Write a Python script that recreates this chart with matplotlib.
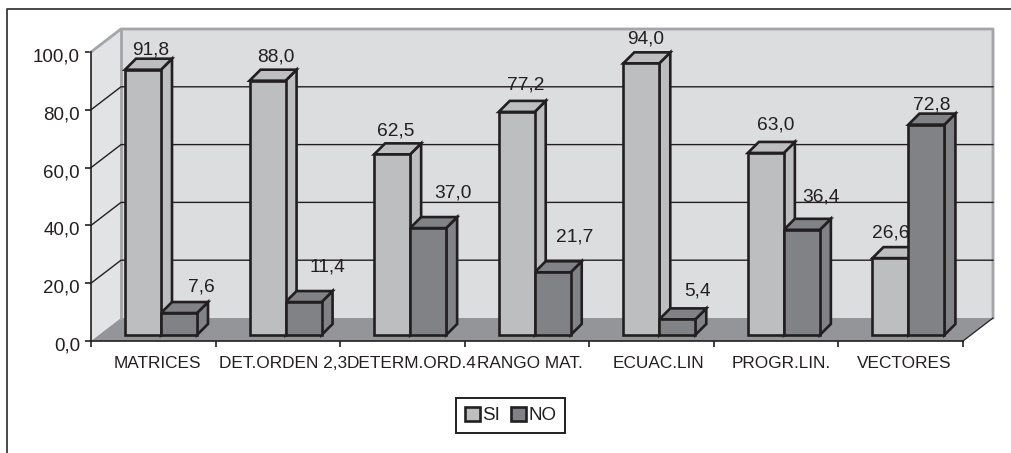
import matplotlib
matplotlib.use("Agg")
import matplotlib.pyplot as plt
from matplotlib.lines import Line2D
from matplotlib.patches import Patch, Polygon
from matplotlib.transforms import ScaledTranslation
import numpy as np

plt.rcParams['font.family'] = ['Liberation Sans', 'DejaVu Sans']

categories = ['MATRICES', 'DET.ORDEN 2,3', 'DETERM.ORD.4', 'RANGO MAT.', 'ECUAC.LIN', 'PROGR.LIN.', 'VECTORES']
si = [91.8, 88.0, 62.5, 77.2, 94.0, 63.0, 26.6]
no = [7.6, 11.4, 37.0, 21.7, 5.4, 36.4, 72.8]
yticks = [0, 20, 40, 60, 80, 100]

# label offsets from the top centre of each bar, in pixels
si_off = [(8, 20), (8, 24), (4, 23), (9, 27), (4, 24), (10, 28), (0, 25)]
no_off = [(22, 26), (24, 35), (25, 35), (22, 35), (20, 28), (19, 33), (5, 20)]
# category labels are not quite centred either, pixels to the right
cat_shift = [4, 5.6, 9.6, 3, 7, 5, 3]

INK = '#231f20'
WALL = '#dcddde'
SIDE = '#e2e3e4'
FLOOR = '#939598'
RIM = '#a3a5a8'
C_SI = '#bcbec0'
C_NO = '#808285'

W, H = 1011, 453
fig = plt.figure(figsize=(W / 100, H / 100), dpi=100)
ax = fig.add_axes([91 / W, 1 - 341 / H, 872 / W, 289 / H])
ax.set_xlim(0, 7)
ax.set_ylim(0, 100)
ax.patch.set_visible(False)

# pixel sizes in data units
px = 7 / 872
py = 100 / 289
dx = 30 * px    # depth of the box
dy = 23 * py

# walls and floor
ax.add_patch(Polygon([(dx, dy), (7 + dx, dy), (7 + dx, 100 + dy), (dx, 100 + dy)], fc=WALL, ec='none', zorder=1, clip_on=False))
ax.add_patch(Polygon([(0, 0), (dx, dy), (dx, 100 + dy), (0, 100)], fc=SIDE, ec='none', zorder=1, clip_on=False))
ax.add_patch(Polygon([(0, 0), (7, 0), (7 + dx, dy), (dx, dy)], fc=FLOOR, ec='none', zorder=1.5, clip_on=False))
ax.plot([0, dx, 7 + dx, 7 + dx], [100, 100 + dy, 100 + dy, dy], color=RIM, lw=2, zorder=2, clip_on=False)
ax.plot([dx, dx], [dy, 100 + dy], color=RIM, lw=2, zorder=2, clip_on=False)
ax.plot([7, 7 + dx], [0, dy], color=INK, lw=0.9, zorder=2, clip_on=False)

# gridlines, back wall and the left wall
for v in yticks[1:-1]:
    ax.plot([0, dx, 7 + dx], [v, v + dy, v + dy], color=INK, lw=1.0, zorder=2, clip_on=False)

# bars
x = np.arange(7)
left = x + 34 * px
bw = 36 * px
base = 6 * py
ox = 11 * px
oy = 11 * py


def Bar3d(xs, vals, col):
    ax.bar(xs, vals, width=bw, bottom=base, align='edge', color=col, edgecolor=INK, linewidth=1.9, zorder=4, clip_on=False)
    for a, v in zip(xs, vals):
        t = v + base
        top = [(a, t), (a + bw, t), (a + bw + ox, t + oy), (a + ox, t + oy)]
        side = [(a + bw, base), (a + bw + ox, base + oy), (a + bw + ox, t + oy), (a + bw, t)]
        ax.add_patch(Polygon(side, fc=col, ec=INK, lw=1.9, joinstyle='miter', zorder=3, clip_on=False))
        ax.add_patch(Polygon(top, fc=col, ec=INK, lw=1.9, joinstyle='miter', zorder=3, clip_on=False))


Bar3d(left, si, C_SI)
Bar3d(left + bw, no, C_NO)

# labels go under the bar fronts, the last 6 of 26,6 is hidden by the NO bar
for xs, vals, offs in [(left, si, si_off), (left + bw, no, no_off)]:
    for a, v, o in zip(xs, vals, offs):
        ax.annotate(f'{v:.1f}'.replace('.', ','), xy=(a + bw / 2, v + base),
                    xytext=(o[0] * 0.72, o[1] * 0.72), textcoords='offset points',
                    ha='center', va='center', fontsize=13.8, color=INK, zorder=3.5)

# axes
for s in ['top', 'right']:
    ax.spines[s].set_visible(False)
for s in ['left', 'bottom']:
    ax.spines[s].set_color(INK)
    ax.spines[s].set_linewidth(1.2)
    ax.spines[s].set_zorder(2.5)

ax.set_yticks(yticks)
ax.set_yticklabels([f'{v:.1f}'.replace('.', ',') for v in yticks], fontsize=13.5, color=INK)
ax.tick_params(axis='y', length=4, width=1.2, color=INK, pad=4)
# tick labels sit a bit below their ticks in the original
for lab in ax.get_yticklabels():
    lab.set_transform(lab.get_transform() + ScaledTranslation(0, -3 / 100, fig.dpi_scale_trans))
ax.set_xticks(np.arange(8))
ax.set_xticklabels([])
ax.tick_params(axis='x', which='major', length=4, width=1.2, color=INK)
ax.set_xticks(x + 0.5 + np.array(cat_shift) * px, minor=True)
ax.set_xticklabels(categories, minor=True, fontsize=12.4, color=INK)
ax.tick_params(axis='x', which='minor', length=0, pad=11)

# frame of the chart, cut off at right and bottom
fig.add_artist(Line2D([6.5 / W, 6.5 / W, 1], [0, 1 - 9 / H, 1 - 9 / H], color='#3a3a3c', lw=1.3))

handles = [Patch(fc=C_SI, ec=INK, lw=1.9), Patch(fc=C_NO, ec=INK, lw=1.9)]
leg = fig.legend(handles, ['SI', 'NO'], ncol=2, loc='center', bbox_to_anchor=(510.5 / W, 1 - 415.5 / H),
                 fontsize=13.5, frameon=True, fancybox=False, edgecolor=INK, framealpha=1,
                 handlelength=0.8, handleheight=0.8, handletextpad=0.12, columnspacing=0.6,
                 borderpad=0.45, borderaxespad=0, labelcolor=INK)
leg.get_frame().set_linewidth(1.4)

fig.savefig('out.png', dpi=100)
